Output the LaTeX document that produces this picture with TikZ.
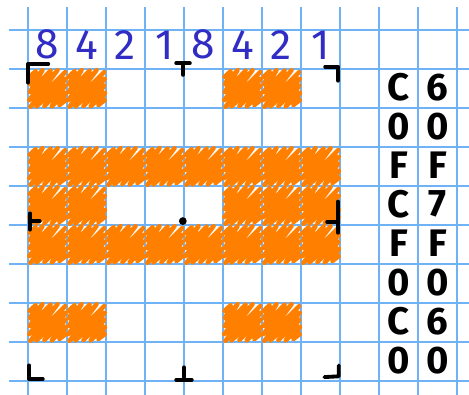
\documentclass[tikz,border=0pt]{standalone}
\usepackage{fontspec}
\setmainfont{Fira Sans}
\definecolor{gridblue}{RGB}{112,178,246}
\definecolor{penblue}{RGB}{48,44,196}
\definecolor{penorange}{RGB}{255,128,0}
\begin{document}
\begin{tikzpicture}[x=1cm,y=1cm,
  gridline/.style={gridblue, line width=1.5pt},
  hatch/.style={penorange, line width=3.2pt, line cap=round, line join=round},
  penmark/.style={black, line width=2.8pt, line cap=round, line join=round},
  bitlabel/.style={penblue, font=\fontsize{31}{33}\selectfont, inner sep=0pt},
  hexlabel/.style={black, font=\fontsize{28}{30}\selectfont\bfseries, inner sep=0pt}]
\useasboundingbox (-0.718,1.769) rectangle (11.308,-8.359);
% paper grid
\foreach \x in {0,...,11}
  \draw[gridline] (\x,1.59) -- (\x,-8.359);
\foreach \y in {1,0,-1,-2,-3,-4,-5,-6,-7,-8}
  \draw[gridline] (-0.49,\y) -- (11.308,\y);
% filled cells
\foreach \r/\cols in {0/{0,1,5,6},2/{0,1,2,3,4,5,6,7},3/{0,1,5,6,7},4/{0,1,2,3,4,5,6,7},6/{0,1,5,6}}
  \foreach \c in \cols {
    \begin{scope}[shift={(\c,-\r)}]
    \draw[hatch] (0.04,-0.2) -- (0.2,-0.05) -- (0.05,-0.4) -- (0.38,-0.02) -- (0.04,-0.6) -- (0.58,-0.04)
      -- (0.03,-0.8) -- (0.76,-0.03) -- (0.06,-0.97) -- (0.95,-0.08) -- (0.22,-0.96) -- (0.97,-0.25)
      -- (0.42,-0.95) -- (0.96,-0.42) -- (0.6,-0.97) -- (0.98,-0.6) -- (0.8,-0.93) -- (0.97,-0.8);
    \end{scope}
  }
% bit weights
\node[bitlabel] (b1) at (0.5,0.62) {8};
\node[bitlabel] (b2) at (1.5,0.62) {4};
\node[bitlabel] (b3) at (2.5,0.62) {2};
\node[bitlabel] (b4) at (3.5,0.62) {1};
\node[bitlabel] (b5) at (4.5,0.62) {8};
\node[bitlabel] (b6) at (5.5,0.62) {4};
\node[bitlabel] (b7) at (6.5,0.62) {2};
\node[bitlabel] (b8) at (7.5,0.62) {1};
% hex codes
\foreach \r/\hi/\lo in {0/C/6,1/0/0,2/F/F,3/C/7,4/F/F,5/0/0,6/C/6,7/0/0} {
  \node[hexlabel] (hi\r) at (9.5,-\r-0.47) {\hi};
  \node[hexlabel] (lo\r) at (10.5,-\r-0.47) {\lo};
}
% corner and centre marks
\draw[penmark] (0,-0.35) -- (0,0.13) -- (0.52,0.13);
\draw[penmark] (3.8,0.15) -- (4.15,0.15);
\draw[penmark] (3.97,0.15) -- (3.97,-0.15);
\draw[penmark] (7.62,0.06) -- (7.95,0.06) -- (7.95,-0.3);
\draw[penmark] (0.05,-3.7) -- (0.05,-4.12);
\draw[penmark] (0.05,-3.9) -- (0.3,-3.9);
\fill (3.97,-3.9) circle (0.1);
\draw[penmark] (7.95,-3.4) -- (7.95,-4.2);
\draw[penmark] (7.67,-3.92) -- (7.95,-3.92);
\draw[penmark] (0.03,-7.6) -- (0.03,-7.95) -- (0.38,-7.95);
\draw[penmark] (4.0,-7.65) -- (4.0,-7.95);
\draw[penmark] (3.8,-7.97) -- (4.2,-7.97);
\draw[penmark] (7.6,-7.9) -- (7.97,-7.88) -- (7.97,-7.6);
\end{tikzpicture}
\end{document}
